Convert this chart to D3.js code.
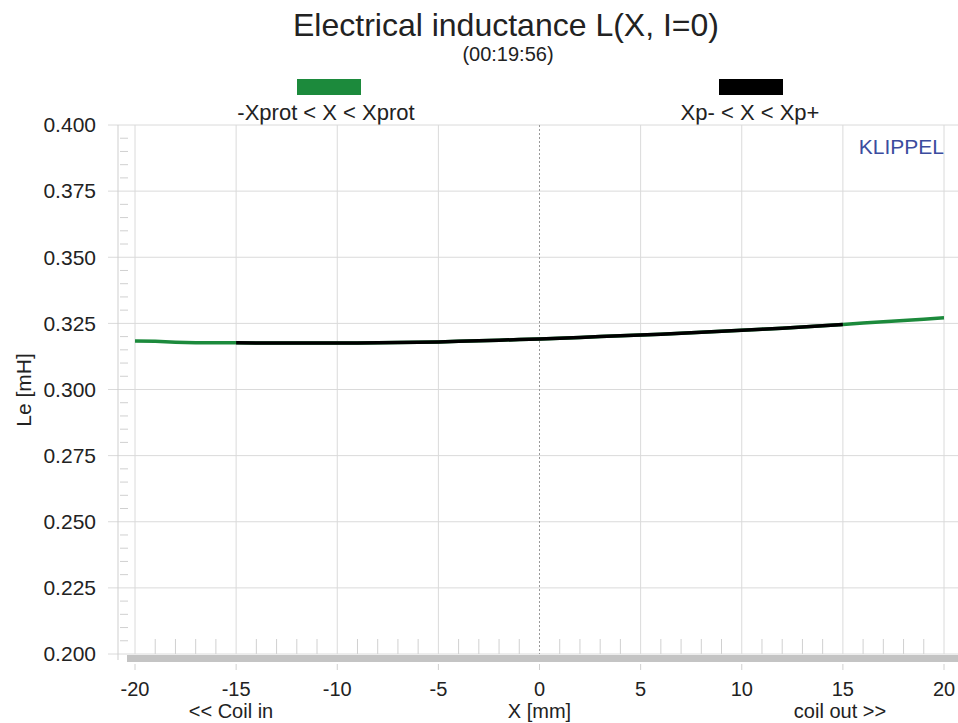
<!DOCTYPE html>
<html>
<head>
<meta charset="utf-8">
<script src="https://cdn.jsdelivr.net/npm/d3@7"></script>
<style>
  body { margin: 0; background: #fff; }
  text { font-family: "Liberation Sans", Arial, sans-serif; fill: #222; }
</style>
</head>
<body>
<div class="chart"></div>
<script>
var xValues = [-20, -19, -18, -17, -16, -15, -14, -13, -12, -11, -10, -9, -8, -7, -6, -5, -4, -3, -2, -1,
               0, 1, 2, 3, 4, 5, 6, 7, 8, 9, 10, 11, 12, 13, 14, 15, 16, 17, 18, 19, 20];
var leValues = [0.3183, 0.3182, 0.3179, 0.3177, 0.3177, 0.3177, 0.3176, 0.3176, 0.3176, 0.3176, 0.3176,
                0.3176, 0.3177, 0.3178, 0.3179, 0.3180, 0.3182, 0.3184, 0.3186, 0.3189, 0.3191,
                0.3194, 0.3197, 0.3200, 0.3203, 0.3206, 0.3209, 0.3213, 0.3216, 0.3220, 0.3224,
                0.3228, 0.3232, 0.3236, 0.3241, 0.3246, 0.3251, 0.3256, 0.3261, 0.3266, 0.3271];
var xTicks = [-20, -15, -10, -5, 0, 5, 10, 15, 20];
var yTicks = [0.200, 0.225, 0.250, 0.275, 0.300, 0.325, 0.350, 0.375, 0.400];
var xprot = 15;
var legendLabels = ["-Xprot < X < Xprot", "Xp- < X < Xp+"];

var width = 958, height = 723;

var x = d3.scaleLinear().domain([-20, 20]).range([135, 944]);
var y = d3.scaleLinear().domain([0.2, 0.4]).range([654, 125]);

var data = xValues.map(function (d, i) { return {x: d, v: leValues[i]}; });

var svg = d3.select(".chart").append("svg")
    .attr("width", width)
    .attr("height", height);

// title
svg.append("text")
    .attr("x", 506).attr("y", 36)
    .attr("text-anchor", "middle")
    .style("font-size", "32px")
    .text("Electrical inductance L(X, I=0)");
svg.append("text")
    .attr("x", 508).attr("y", 61)
    .attr("text-anchor", "middle")
    .style("font-size", "20px")
    .text("(00:19:56)");

// legend
var legend = [
  {label: legendLabels[0], color: "#1c8a3c", rx: 297, cx: 326},
  {label: legendLabels[1], color: "#000", rx: 719, cx: 750}
];
legend.forEach(function (l) {
  svg.append("rect")
      .attr("x", l.rx).attr("y", 79)
      .attr("width", 64).attr("height", 16)
      .attr("fill", l.color);
  svg.append("text")
      .attr("x", l.cx).attr("y", 120)
      .attr("text-anchor", "middle")
      .style("font-size", "22px")
      .text(l.label);
});

// grid
svg.append("g")
  .selectAll("line")
  .data(yTicks)
  .enter().append("line")
    .attr("x1", 108).attr("x2", width)
    .attr("y1", function (d) { return y(d); })
    .attr("y2", function (d) { return y(d); })
    .attr("stroke", "#dadada");

svg.append("g")
  .selectAll("line")
  .data(xTicks.filter(function (d) { return d !== 0; }))
  .enter().append("line")
    .attr("x1", function (d) { return x(d); })
    .attr("x2", function (d) { return x(d); })
    .attr("y1", 125).attr("y2", 654)
    .attr("stroke", "#dadada");

// dotted zero line
svg.append("line")
    .attr("x1", x(0)).attr("x2", x(0))
    .attr("y1", 125).attr("y2", 654)
    .attr("stroke", "#999")
    .attr("stroke-dasharray", "2,2");

// left frame line and minor y ticks
svg.append("line")
    .attr("x1", 118).attr("x2", 118)
    .attr("y1", 125).attr("y2", 660)
    .attr("stroke", "#cfcfcf");
svg.append("g")
  .selectAll("line")
  .data(d3.range(0.2, 0.4, 0.005).filter(function (d, i) { return i % 5 !== 0; }))
  .enter().append("line")
    .attr("x1", 120).attr("x2", 128)
    .attr("y1", function (d) { return y(d); })
    .attr("y2", function (d) { return y(d); })
    .attr("stroke", "#d0d0d0");

// minor x ticks
svg.append("g")
  .selectAll("line")
  .data(d3.range(-20, 21, 1).filter(function (d) { return d % 5 !== 0; }))
  .enter().append("line")
    .attr("x1", function (d) { return x(d); })
    .attr("x2", function (d) { return x(d); })
    .attr("y1", 639).attr("y2", 654)
    .attr("stroke", "#d0d0d0");

// bottom bar
svg.append("rect")
    .attr("x", 127).attr("y", 655)
    .attr("width", width - 127).attr("height", 7)
    .attr("fill", "#c4c4c4");

// y axis labels
svg.append("g")
  .selectAll("text")
  .data(yTicks)
  .enter().append("text")
    .attr("x", 96)
    .attr("y", function (d) { return y(d); })
    .attr("dy", "0.35em")
    .attr("text-anchor", "end")
    .style("font-size", "21px")
    .text(function (d) { return d3.format(".3f")(d); });

svg.append("text")
    .attr("transform", "translate(31,390) rotate(-90)")
    .attr("text-anchor", "middle")
    .style("font-size", "21px")
    .text("Le [mH]");

// x axis labels
svg.append("g")
  .selectAll("line")
  .data(xTicks)
  .enter().append("line")
    .attr("x1", function (d) { return x(d); })
    .attr("x2", function (d) { return x(d); })
    .attr("y1", 664).attr("y2", 670)
    .attr("stroke", "#d0d0d0");

svg.append("g")
  .selectAll("text")
  .data(xTicks)
  .enter().append("text")
    .attr("x", function (d) { return x(d); })
    .attr("y", 696)
    .attr("text-anchor", "middle")
    .style("font-size", "20px")
    .text(function (d) { return d; });

svg.append("text")
    .attr("x", 231).attr("y", 718)
    .attr("text-anchor", "middle")
    .style("font-size", "20px")
    .text("<< Coil in");
svg.append("text")
    .attr("x", x(0)).attr("y", 718)
    .attr("text-anchor", "middle")
    .style("font-size", "20px")
    .text("X [mm]");
svg.append("text")
    .attr("x", 840).attr("y", 718)
    .attr("text-anchor", "middle")
    .style("font-size", "20px")
    .text("coil out >>");

// KLIPPEL
svg.append("text")
    .attr("x", 944).attr("y", 154)
    .attr("text-anchor", "end")
    .style("font-size", "21px")
    .style("fill", "#3b4c9e")
    .text("KLIPPEL");

// curve
var line = d3.line()
    .x(function (d) { return x(d.x); })
    .y(function (d) { return y(d.v); });

svg.append("path")
    .datum(data)
    .attr("fill", "none")
    .attr("stroke", "#1c8a3c")
    .attr("stroke-width", 3.5)
    .attr("d", line);

svg.append("path")
    .datum(data.filter(function (d) { return Math.abs(d.x) <= xprot; }))
    .attr("fill", "none")
    .attr("stroke", "#000")
    .attr("stroke-width", 3.5)
    .attr("d", line);
</script>
</body>
</html>
